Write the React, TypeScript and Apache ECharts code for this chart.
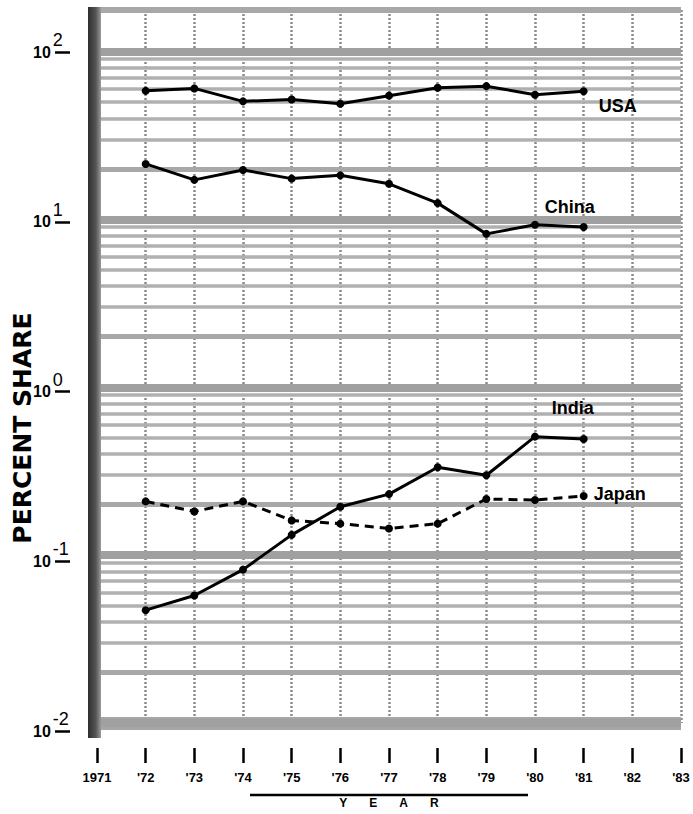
import React, { useEffect, useRef } from 'react';
import * as echarts from 'echarts';

// ---- data ----
const years = [1972, 1973, 1974, 1975, 1976, 1977, 1978, 1979, 1980, 1981];
const usaShare = [58.3, 60.3, 50.5, 51.8, 48.9, 54.6, 60.8, 62.2, 55.3, 58.0];
const chinaShare = [21.4, 17.2, 19.7, 17.5, 18.3, 16.3, 12.5, 8.2, 9.3, 9.0];
const indiaShare = [0.047, 0.0575, 0.082, 0.132, 0.194, 0.231, 0.334, 0.299, 0.508, 0.492];
const japanShare = [0.209, 0.182, 0.209, 0.161, 0.154, 0.144, 0.154, 0.216, 0.213, 0.225];

const yearTickLabels = ['1971', "'72", "'73", "'74", "'75", "'76", "'77", "'78", "'79", "'80", "'81", "'82", "'83"];
const decadeExponents = ['-2', '-1', '0', '1', '2'];
const gridMultipliers = [1, 2, 3, 4, 5, 6, 7, 8, 9];
const gridDecades = [-2, -1, 0, 1];

// layout: decade 10^2 at y=52, 10^-2 at y=731, plot top at y=10
const DECADE_PX = (731 - 52) / 4;
const Y_MAX = Math.pow(10, 2 + (52 - 10) / DECADE_PX);

const FONT = '"Liberation Sans", Arial, sans-serif';

export default function App() {
  const ref = useRef<HTMLDivElement>(null);

  useEffect(() => {
    if (!ref.current) return;
    const chart = echarts.init(ref.current, undefined, { renderer: 'svg' });

    const gridLineData: any[] = [];
    gridDecades.forEach((k) => {
      gridMultipliers.forEach((m) => {
        const v = m * Math.pow(10, k);
        let lineStyle;
        if (m === 1) lineStyle = { color: '#a0a0a0', width: 8, type: 'solid', cap: 'butt' };
        else if (m === 2) lineStyle = { color: '#a8a8a8', width: 5, type: 'solid', cap: 'butt' };
        else lineStyle = { color: '#b0b0b0', width: 3.5, type: 'solid', cap: 'butt' };
        gridLineData.push({ yAxis: v, lineStyle });
      });
    });
    gridLineData.push({ yAxis: 100, lineStyle: { color: '#a0a0a0', width: 8, type: 'solid', cap: 'butt' } });

    const mkSeries = (name: string, values: number[], dashed: boolean, offset: number[]) => ({
      name,
      type: 'line',
      xAxisIndex: 0,
      yAxisIndex: 0,
      z: 3,
      symbol: 'circle',
      symbolSize: 8,
      itemStyle: { color: '#000' },
      lineStyle: { color: '#000', width: 3, type: dashed ? [9, 6] : 'solid' },
      data: values.map((v, i) =>
        i === values.length - 1
          ? {
              value: [years[i], v],
              label: {
                show: true,
                formatter: name,
                position: 'right',
                distance: 5,
                offset,
                fontSize: 18,
                fontWeight: 'bold',
                fontFamily: FONT,
                color: '#000',
              },
            }
          : [years[i], v]
      ),
    });

    const option: any = {
      animation: false,
      backgroundColor: '#ffffff',
      grid: [
        { left: 97, right: 12, top: 10, bottom: 83 },
        { left: 97, right: 12, top: 52, bottom: 83 },
      ],
      xAxis: [
        {
          gridIndex: 0,
          type: 'value',
          min: 1971,
          max: 1983,
          interval: 1,
          axisLine: { show: true, onZero: false, lineStyle: { color: '#a6a6a6', width: 13, cap: 'butt' } },
          axisTick: { show: false },
          axisLabel: { show: false },
          splitLine: { show: true, lineStyle: { color: '#8a8a8a', width: 2.5, type: [2, 2] } },
        },
        {
          gridIndex: 0,
          type: 'value',
          min: 1971,
          max: 1983,
          interval: 1,
          position: 'bottom',
          offset: 25,
          axisLine: { show: false },
          axisTick: { show: true, length: 15, lineStyle: { color: '#000', width: 2.5 } },
          axisLabel: {
            margin: 23,
            fontSize: 13,
            fontWeight: 'bold',
            fontFamily: FONT,
            color: '#000',
            formatter: (v: number) => yearTickLabels[Math.round(v) - 1971] ?? '',
          },
          splitLine: { show: false },
          name: '{l|Y}{l|E}{l|A}{l|R}',
          nameLocation: 'middle',
          nameGap: 49,
          nameTextStyle: {
            rich: {
              l: { fontSize: 12, fontWeight: 'bold', fontFamily: FONT, color: '#000', padding: [0, 11, 0, 11] },
            },
          },
        },
        { gridIndex: 1, type: 'value', min: 1971, max: 1983, show: false },
        {
          gridIndex: 0,
          type: 'value',
          min: 1971,
          max: 1983,
          position: 'top',
          axisLine: { show: true, onZero: false, lineStyle: { color: '#a8a8a8', width: 6, cap: 'butt' } },
          axisTick: { show: false },
          axisLabel: { show: false },
          splitLine: { show: false },
        },
      ],
      yAxis: [
        {
          gridIndex: 0,
          type: 'log',
          logBase: 10,
          min: 0.01,
          max: Y_MAX,
          axisLine: { show: false },
          axisTick: { show: false },
          axisLabel: { show: false },
          splitLine: { show: false },
        },
        {
          gridIndex: 1,
          type: 'log',
          logBase: 10,
          min: 0.01,
          max: 100,
          splitNumber: 4,
          position: 'left',
          offset: 27,
          axisLine: { show: false },
          axisTick: { show: true, length: 15, lineStyle: { color: '#000', width: 2.5 } },
          splitLine: { show: false },
          axisLabel: {
            align: 'left',
            margin: 37,
            formatter: (v: number) => {
              const e = Math.round(Math.log10(v));
              return '{b|10}{e|' + (decadeExponents[e + 2] ?? '') + '}';
            },
            rich: {
              b: { fontSize: 16, fontWeight: 'bold', fontFamily: FONT, color: '#000' },
              e: { fontSize: 18, fontFamily: FONT, color: '#000', padding: [0, 0, 24, 2] },
            },
          },
        },
      ],
      series: [
        {
          type: 'line',
          xAxisIndex: 0,
          yAxisIndex: 0,
          data: [],
          silent: true,
          z: 1,
          markLine: {
            silent: true,
            z: 1,
            symbol: ['none', 'none'],
            label: { show: false },
            emphasis: { disabled: true },
            data: gridLineData,
          },
        },
        mkSeries('USA', usaShare, false, [6, 15]),
        mkSeries('China', chinaShare, false, [-48, -20]),
        mkSeries('India', indiaShare, false, [-41, -31]),
        mkSeries('Japan', japanShare, true, [1, -2]),
      ],
      graphic: [
        {
          type: 'rect',
          z: 10,
          shape: { x: 88, y: 7, width: 13, height: 731 },
          style: {
            fill: new echarts.graphic.LinearGradient(0, 0, 1, 0, [
              { offset: 0, color: '#2e2e2e' },
              { offset: 0.6, color: '#555555' },
              { offset: 1, color: '#9a9a9a' },
            ]),
          },
        },
        {
          type: 'line',
          z: 10,
          shape: { x1: 250, y1: 795, x2: 528, y2: 795 },
          style: { stroke: '#000', lineWidth: 2.5 },
        },
        {
          type: 'text',
          z: 10,
          x: 22,
          y: 428,
          rotation: Math.PI / 2,
          style: {
            text: 'PERCENT SHARE',
            fontSize: 25,
            fontWeight: 'bold',
            fontFamily: '"DejaVu Sans", sans-serif',
            fill: '#000',
            align: 'center',
            verticalAlign: 'middle',
          },
        },
      ],
    };

    chart.setOption(option);
    return () => chart.dispose();
  }, []);

  return (
    <div
      ref={ref}
      style={{ position: 'fixed', left: 0, top: 0, width: 693, height: 814, background: '#fff' }}
    />
  );
}
